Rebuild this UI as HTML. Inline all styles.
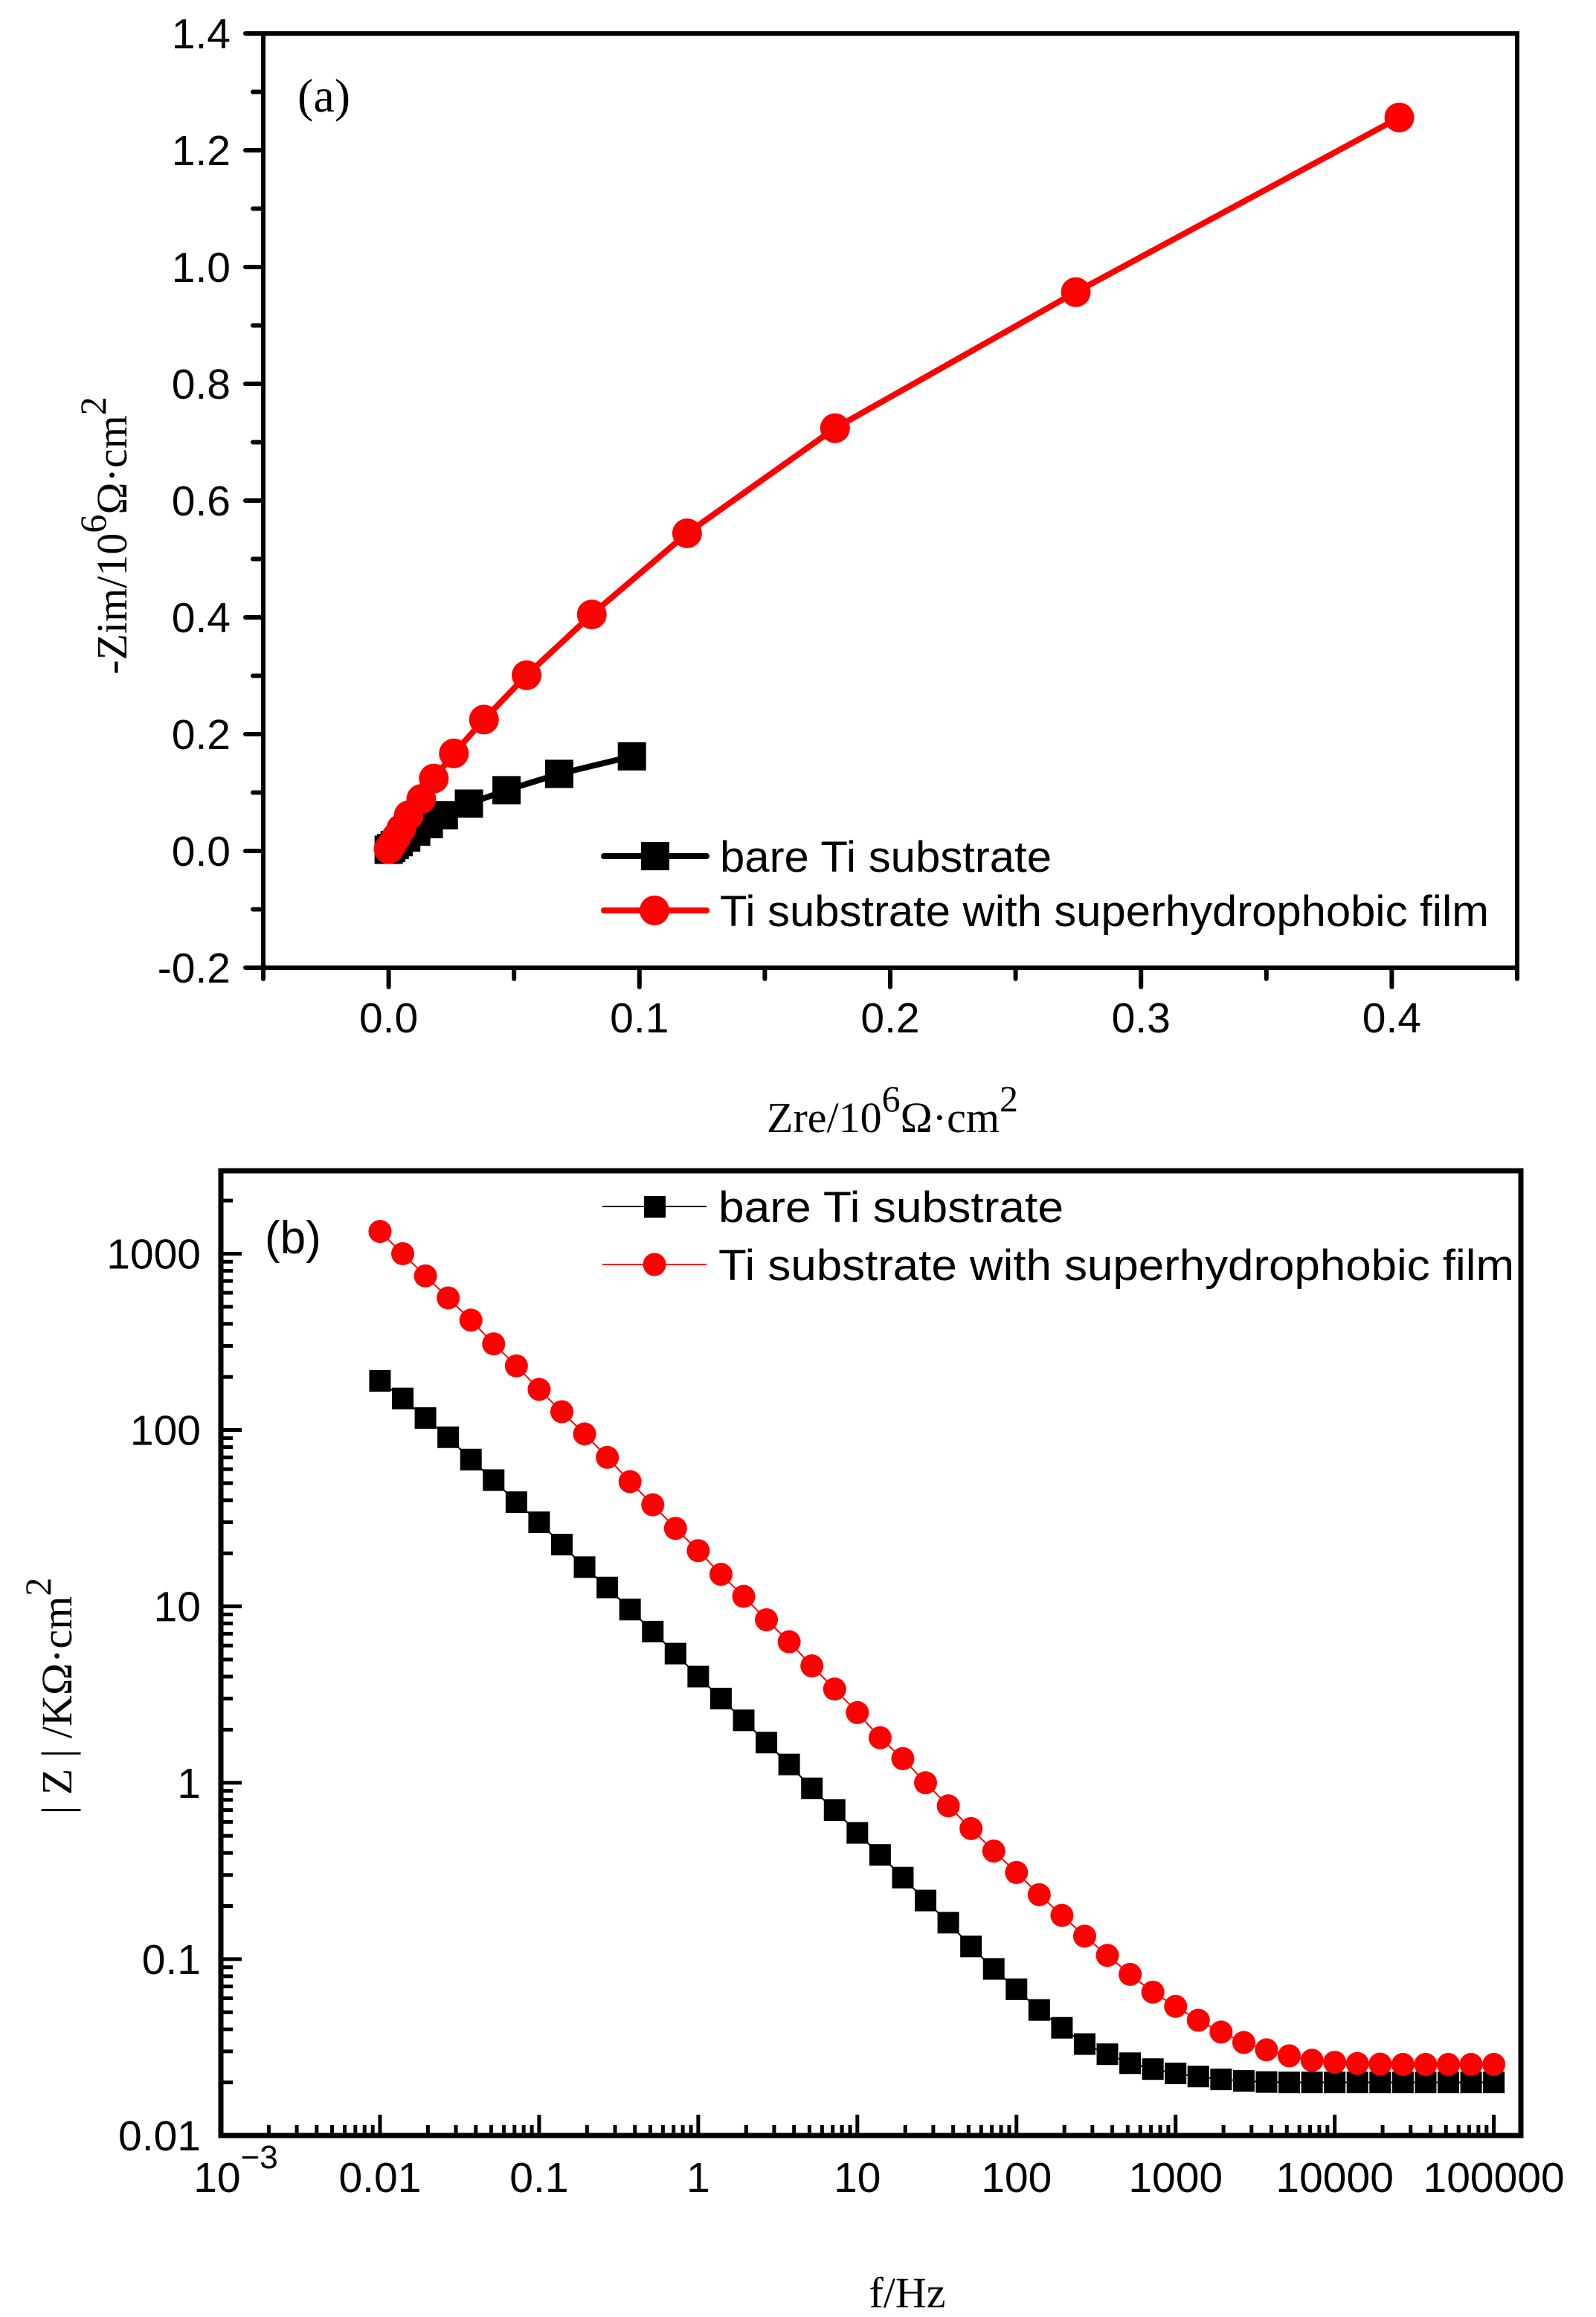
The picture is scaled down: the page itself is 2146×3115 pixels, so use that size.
<!DOCTYPE html>
<html><head><meta charset="utf-8"><style>
html,body{margin:0;padding:0;background:#fff;}
svg{display:block;}
.tk{font-family:"Liberation Sans",Arial,sans-serif;font-size:57px;fill:#000;}
.ttl{font-family:"Liberation Serif",serif;font-size:58px;fill:#000;}
.lg{font-family:"Liberation Sans",Arial,sans-serif;font-size:58px;fill:#000;}
</style></head><body>
<svg id="fig" width="2146" height="3115" viewBox="0 0 2146 3115" xmlns="http://www.w3.org/2000/svg">
<rect width="2146" height="3115" fill="#fff"/>
<g id="ga"></g>
<g id="gb"></g>
</svg>
<script>
// Chart (a) Nyquist data (units 10^6 ohm cm^2)
const aBareX = [0.097,0.068,0.047,0.032,0.022,0.016,0.011,0.007,0.004,0.0024,0.001,0.0];
const aBareY = [0.162,0.132,0.104,0.081,0.061,0.046,0.033,0.023,0.015,0.010,0.005,0.002];
const aFilmX = [0.403,0.274,0.178,0.119,0.081,0.055,0.038,0.026,0.018,0.013,0.008,0.005,0.003,0.0012,0.0];
const aFilmY = [1.256,0.957,0.724,0.544,0.405,0.301,0.225,0.167,0.124,0.089,0.061,0.038,0.023,0.010,0.003];
const aXTicks = [0.0,0.1,0.2,0.3,0.4];
const aXTickLabels = ["0.0","0.1","0.2","0.3","0.4"];
const aYTicks = [-0.2,0.0,0.2,0.4,0.6,0.8,1.0,1.2,1.4];
const aYTickLabels = ["-0.2","0.0","0.2","0.4","0.6","0.8","1.0","1.2","1.4"];
// Chart (b) Bode data: frequencies (Hz) and |Z| (kOhm cm^2)
const bFreq = [];
for (let i = 0; i < 50; i++) bFreq.push(Math.pow(10, -2 + i / 7));
const bBare = [190,151,117,91,68,52,39,30,22.4,16.7,12.8,9.6,7.2,5.4,4.0,3.0,2.26,1.69,1.27,0.93,0.70,0.52,0.39,0.29,0.215,0.161,0.118,0.088,0.0675,0.0515,0.0408,0.033,0.0289,0.0257,0.0238,0.0225,0.0216,0.0208,0.0204,0.0201,0.0200,0.0200,0.0200,0.0200,0.0200,0.0200,0.0200,0.0200,0.0200,0.0200];
const bFilm = [1336,1000,748,561,420,308,231,170,127,95,70,51,37.7,27.7,20.7,15.2,11.4,8.4,6.3,4.6,3.4,2.5,1.8,1.37,1.0,0.74,0.55,0.41,0.31,0.232,0.177,0.135,0.105,0.082,0.065,0.054,0.045,0.0386,0.0337,0.0306,0.0283,0.0267,0.026,0.0256,0.0254,0.0253,0.0253,0.0253,0.0253,0.0253];
const bXTicks = [0.001,0.01,0.1,1,10,100,1000,10000,100000];
const bXTickLabels = ["10^-3","0.01","0.1","1","10","100","1000","10000","100000"];
const bYTicks = [0.01,0.1,1,10,100,1000];
const bYTickLabels = ["0.01","0.1","1","10","100","1000"];

const NS = "http://www.w3.org/2000/svg";
function mk(parent, tag, attrs, text) {
  const e = document.createElementNS(NS, tag);
  for (const k in attrs) e.setAttribute(k, attrs[k]);
  if (text !== undefined) e.textContent = text;
  parent.appendChild(e);
  return e;
}
// ---------- Chart (a) ----------
const ga = document.getElementById('ga');
const A = {l:354, r:2040, t:45, b:1301, x0:-0.05, x1:0.45, y0:-0.2, y1:1.4};
const ax = v => A.l + (v - A.x0) / (A.x1 - A.x0) * (A.r - A.l);
const ay = v => A.b - (v - A.y0) / (A.y1 - A.y0) * (A.b - A.t);

let fr = mk(ga, 'rect', {x:A.l, y:A.t, width:A.r-A.l, height:A.b-A.t, fill:'none', stroke:'#000', 'stroke-width':6});


for (let v = -0.2; v <= 1.4001; v += 0.1) {
  const major = Math.abs(Math.round(v*10) % 2) === 0;
  const y = ay(v);
  const t = mk(ga, 'line', {x1:A.l, x2:A.l - (major ? 24 : 14), y1:y, y2:y, stroke:'#000', 'stroke-width':6, 'stroke-linecap':'round'});
  
  
}
for (let v = -0.05; v <= 0.4501; v += 0.05) {
  const major = Math.abs(Math.round(v*100) % 10) === 0;
  const x = ax(v);
  const t = mk(ga, 'line', {x1:x, x2:x, y1:A.b, y2:A.b + (major ? 26 : 15), stroke:'#000', 'stroke-width':6, 'stroke-linecap':'round'});
  
  
}
aYTicks.forEach((v, i) => {
  const t = mk(ga, 'text', {x:310, y:ay(v) + 20, 'text-anchor':'end', class:'tk'}, aYTickLabels[i]);
  
  
});
aXTicks.forEach((v, i) => {
  const t = mk(ga, 'text', {x:ax(v), y:1388, 'text-anchor':'middle', class:'tk'}, aXTickLabels[i]);
  
  
});
function seriesA(xs, ys, color, marker, name) {
  const g = mk(ga, 'g', {});
  
  
  const pts = xs.map((x, i) => ax(x) + ',' + ay(ys[i])).join(' ');
  mk(g, 'polyline', {points:pts, fill:'none', stroke:color, 'stroke-width':8, 'stroke-linejoin':'round'});
  xs.forEach((x, i) => {
    let m;
    if (marker === 'sq') m = mk(g, 'rect', {x:ax(x)-19, y:ay(ys[i])-19, width:38, height:38, fill:color});
    else m = mk(g, 'circle', {cx:ax(x), cy:ay(ys[i]), r:20, fill:color});
    
    
  });
}
seriesA(aBareX, aBareY, '#000', 'sq', 'bare-ti-nyquist');
seriesA(aFilmX, aFilmY, '#f00', 'ci', 'film-nyquist');
// legend a
let lg = mk(ga, 'g', {});


mk(lg, 'line', {x1:812, x2:950, y1:1151, y2:1151, stroke:'#000', 'stroke-width':8, 'stroke-linecap':'round'});
mk(lg, 'rect', {x:862, y:1132, width:38, height:38, fill:'#000'});
mk(lg, 'text', {x:968, y:1172, class:'lg', textLength:446, lengthAdjust:'spacingAndGlyphs'}, 'bare Ti substrate');
mk(lg, 'line', {x1:812, x2:950, y1:1224, y2:1224, stroke:'#f00', 'stroke-width':8, 'stroke-linecap':'round'});
mk(lg, 'circle', {cx:880, cy:1224, r:20, fill:'#f00'});
mk(lg, 'text', {x:968, y:1245, class:'lg', textLength:1034, lengthAdjust:'spacingAndGlyphs'}, 'Ti substrate with superhydrophobic film');
let pa = mk(ga, 'text', {x:400, y:150, style:'font-family:"Liberation Serif",serif;font-size:64px'}, '(a)');


let xta = mk(ga, 'text', {x:1200, y:1522, 'text-anchor':'middle', class:'ttl'});


xta.innerHTML = 'Zre/10<tspan dy="-28" font-size="50">6</tspan><tspan dy="28">Ω·cm</tspan><tspan dy="-28" font-size="50">2</tspan>';
let yta = mk(ga, 'text', {x:0, y:0, 'text-anchor':'middle', class:'ttl', transform:'translate(170,720) rotate(-90)'});


yta.innerHTML = '-Zim/10<tspan dy="-28" font-size="50">6</tspan><tspan dy="28">Ω·cm</tspan><tspan dy="-28" font-size="50">2</tspan>';

// ---------- Chart (b) ----------
const gb = document.getElementById('gb');
const B = {l:297, r:2045, t:1574, b:2871, x0:-3, x1:5.17, y0:-2, y1:3.47};
const bx = v => B.l + (Math.log10(v) - B.x0) / (B.x1 - B.x0) * (B.r - B.l);
const by = v => B.b - (Math.log10(v) - B.y0) / (B.y1 - B.y0) * (B.b - B.t);
let frb = mk(gb, 'rect', {x:B.l, y:B.t, width:B.r-B.l, height:B.b-B.t, fill:'none', stroke:'#000', 'stroke-width':7});


for (let d = -2; d <= 3; d++) {
  for (let m = 1; m <= 9; m++) {
    const v = m * Math.pow(10, d);
    if (Math.log10(v) > B.y1) continue;
    const y = by(v);
    const t = mk(gb, 'line', {x1:B.l, x2:B.l + (m === 1 ? 28 : 16), y1:y, y2:y, stroke:'#000', 'stroke-width':5});
    
    
  }
}
for (let d = -3; d <= 5; d++) {
  for (let m = 1; m <= 9; m++) {
    const v = m * Math.pow(10, d);
    if (Math.log10(v) > B.x1) continue;
    const x = bx(v);
    const t = mk(gb, 'line', {x1:x, x2:x, y1:B.b, y2:B.b - (m === 1 ? 28 : 14), stroke:'#000', 'stroke-width':5});
    
    
  }
}
bYTicks.forEach((v, i) => {
  const t = mk(gb, 'text', {x:270, y:by(v) + 20, 'text-anchor':'end', class:'tk'}, bYTickLabels[i]);
  
  
});
bXTicks.forEach((v, i) => {
  const lab = bXTickLabels[i];
  const t = mk(gb, 'text', {x:bx(v), y:2947, 'text-anchor':'middle', class:'tk'});
  
  
  if (lab.indexOf('^') >= 0) {
    const p = lab.split('^');
    t.setAttribute('x', bx(v) + 20);
    t.innerHTML = p[0] + '<tspan dy="-32" font-size="44">' + p[1].replace('-', '−') + '</tspan>';
  } else t.textContent = lab;
});
function seriesB(ys, color, marker, name) {
  const g = mk(gb, 'g', {});
  
  
  const pts = bFreq.map((f, i) => bx(f) + ',' + by(ys[i])).join(' ');
  mk(g, 'polyline', {points:pts, fill:'none', stroke:color, 'stroke-width':2});
  bFreq.forEach((f, i) => {
    let m;
    if (marker === 'sq') m = mk(g, 'rect', {x:bx(f)-14.5, y:by(ys[i])-14.5, width:29, height:29, fill:color});
    else m = mk(g, 'circle', {cx:bx(f), cy:by(ys[i]), r:15.5, fill:color});
    
    
  });
}
seriesB(bBare, '#000', 'sq', 'bare-ti-bode');
seriesB(bFilm, '#f00', 'ci', 'film-bode');
let lb = mk(gb, 'g', {});


mk(lb, 'line', {x1:810, x2:950, y1:1622, y2:1622, stroke:'#000', 'stroke-width':2});
mk(lb, 'rect', {x:866, y:1608, width:29, height:29, fill:'#000'});
mk(lb, 'text', {x:966, y:1643, class:'lg', textLength:464, lengthAdjust:'spacingAndGlyphs'}, 'bare Ti substrate');
mk(lb, 'line', {x1:810, x2:950, y1:1700, y2:1700, stroke:'#f00', 'stroke-width':2});
mk(lb, 'circle', {cx:880, cy:1700, r:15.5, fill:'#f00'});
mk(lb, 'text', {x:966, y:1721, class:'lg', textLength:1070, lengthAdjust:'spacingAndGlyphs'}, 'Ti substrate with superhydrophobic film');
let pb = mk(gb, 'text', {x:356, y:1685, style:'font-family:"Liberation Sans",sans-serif;font-size:62px'}, '(b)');


let xtb = mk(gb, 'text', {x:1220, y:3102, 'text-anchor':'middle', class:'ttl'}, 'f/Hz');


let ytb = mk(gb, 'text', {x:0, y:0, 'text-anchor':'middle', class:'ttl', transform:'translate(96,2280) rotate(-90)'});


ytb.innerHTML = '| Z | /KΩ·cm<tspan dy="-28" font-size="50">2</tspan>';
</script>
</body></html>
